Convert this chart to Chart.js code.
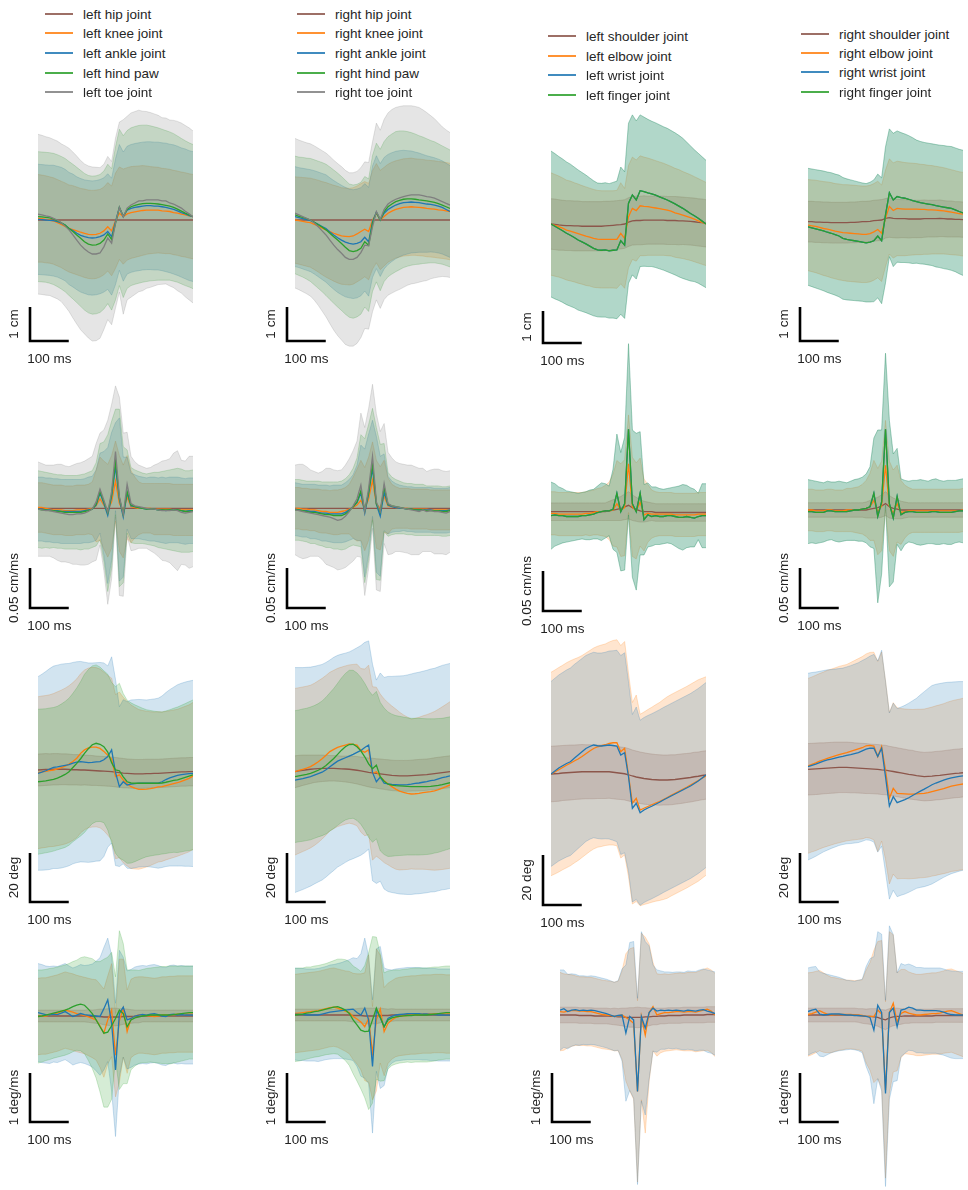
<!DOCTYPE html>
<html lang="en">
<head>
<meta charset="UTF-8">
<title>Joint kinematics around the event</title>
<script src="https://cdn.jsdelivr.net/npm/chart.js"></script>
<style>
  body { margin: 0; background: #fff; width: 968px; height: 1190px; position: relative; overflow: hidden;
         font-family: "Liberation Sans", Arial, sans-serif; }
  canvas.panel { position: absolute; }
  .legend { position: absolute; font-size: 13.5px; color: #262626; }
  .legend .item { position: absolute; left: 0; height: 20px; display: flex; align-items: center; white-space: nowrap; }
  .legend .swatch { display: inline-block; width: 28px; height: 0; border-top: 2px solid; opacity: 0.85; margin-right: 10px; }
</style>
</head>
<body>
<script>
// ---------- time axis (ms) ----------
const timeMs = [-200,-190,-180,-170,-160,-150,-140,-130,-120,-110,
  -100,-90,-80,-70,-60,-50,-40,-30,-20,-10,
  0,10,20,30,40,50,60,70,80,90,
  100,110,120,130,140,150,160,170,180,190,200];

// ---------- names ----------
const hindLeftNames = ['left hip joint', 'left knee joint', 'left ankle joint', 'left hind paw', 'left toe joint'];
const hindRightNames = ['right hip joint', 'right knee joint', 'right ankle joint', 'right hind paw', 'right toe joint'];
const foreLeftNames = ['left shoulder joint', 'left elbow joint', 'left wrist joint', 'left finger joint'];
const foreRightNames = ['right shoulder joint', 'right elbow joint', 'right wrist joint', 'right finger joint'];

// positions / velocities are taken relative to the hip, so its trace is 0
const hindHipRef = [0,0,0,0,0,0,0,0,0,0, 0,0,0,0,0,0,0,0,0,0, 0,0,0,0,0,0,0,0,0,0, 0,0,0,0,0,0,0,0,0,0,0];

// ---------- row 1: position (cm) ----------
const posLH_knee = [0.05,0.04,0.02,0,-0.03,-0.08,-0.13,-0.19,-0.25,-0.28,
  -0.32,-0.36,-0.39,-0.42,-0.43,-0.42,-0.39,-0.32,-0.20,-0.32,
  -0.02,0.20,0.10,0.18,0.22,0.24,0.26,0.28,0.29,0.29,
  0.29,0.29,0.27,0.26,0.25,0.22,0.20,0.17,0.15,0.12,0.10];
const posLH_ankle = [0.02,0.01,0,-0.01,-0.02,-0.05,-0.09,-0.15,-0.25,-0.31,
  -0.39,-0.45,-0.49,-0.52,-0.53,-0.52,-0.49,-0.44,-0.34,-0.49,
  -0.05,0.37,0.10,0.29,0.34,0.37,0.39,0.41,0.42,0.42,
  0.41,0.41,0.39,0.37,0.34,0.31,0.27,0.22,0.18,0.13,0.10];
const posLH_paw = [0.10,0.09,0.08,0.06,0.03,-0.02,-0.08,-0.15,-0.25,-0.34,
  -0.44,-0.54,-0.64,-0.71,-0.74,-0.73,-0.69,-0.59,-0.41,-0.57,
  -0.10,0.37,0.10,0.31,0.39,0.43,0.46,0.48,0.49,0.49,
  0.48,0.47,0.45,0.43,0.41,0.37,0.32,0.26,0.20,0.15,0.10];
const posLH_toe = [0.17,0.15,0.12,0.10,0.05,0,-0.08,-0.18,-0.29,-0.44,
  -0.59,-0.74,-0.85,-0.94,-1.00,-1.00,-0.97,-0.79,-0.53,-0.68,
  -0.09,0.38,0.09,0.35,0.44,0.50,0.56,0.56,0.59,0.59,
  0.59,0.59,0.56,0.56,0.50,0.47,0.41,0.35,0.26,0.18,0.09];
const posLH_knee_sd = [1.29,1.28,1.28,1.27,1.27,1.27,1.27,1.28,1.28,1.29,
  1.29,1.29,1.30,1.30,1.30,1.30,1.29,1.29,1.30,1.32,
  1.40,1.36,1.40,1.36,1.35,1.34,1.33,1.32,1.30,1.28,
  1.27,1.26,1.25,1.25,1.24,1.24,1.24,1.24,1.24,1.24,1.24];
const posLH_ankle_sd = [1.62,1.62,1.62,1.62,1.63,1.63,1.64,1.64,1.65,1.66,
  1.66,1.67,1.67,1.68,1.68,1.68,1.68,1.68,1.70,1.72,
  1.85,1.85,1.90,1.88,1.88,1.88,1.88,1.88,1.88,1.88,
  1.88,1.88,1.88,1.89,1.89,1.90,1.90,1.90,1.91,1.91,1.91];
const posLH_paw_sd = [1.91,1.91,1.91,1.92,1.93,1.94,1.95,1.96,1.97,1.98,
  1.99,2.00,2.01,2.02,2.03,2.03,2.03,2.03,2.05,2.08,
  2.25,2.30,2.38,2.32,2.32,2.32,2.32,2.31,2.30,2.28,
  2.26,2.24,2.22,2.20,2.18,2.17,2.15,2.14,2.13,2.12,2.12];
const posLH_toe_sd = [2.35,2.34,2.33,2.32,2.32,2.32,2.32,2.36,2.40,2.44,
  2.47,2.49,2.50,2.53,2.56,2.55,2.51,2.43,2.40,2.40,
  2.50,2.50,2.86,2.70,2.71,2.69,2.67,2.64,2.60,2.57,
  2.53,2.49,2.45,2.44,2.44,2.46,2.49,2.50,2.52,2.53,2.53];

const posRH_knee = [0,-0.02,-0.04,-0.06,-0.08,-0.13,-0.18,-0.24,-0.29,-0.34,
  -0.39,-0.43,-0.47,-0.48,-0.49,-0.47,-0.41,-0.34,-0.27,-0.34,
  0,0.20,0,0.10,0.20,0.26,0.31,0.34,0.37,0.38,
  0.39,0.38,0.37,0.36,0.34,0.33,0.32,0.30,0.29,0.27,0.25];
const posRH_ankle = [0.10,0.07,0.04,0.01,-0.02,-0.07,-0.13,-0.19,-0.25,-0.35,
  -0.44,-0.52,-0.59,-0.65,-0.69,-0.71,-0.69,-0.64,-0.51,-0.64,
  -0.05,0.23,0,0.20,0.31,0.38,0.44,0.48,0.51,0.52,
  0.53,0.52,0.51,0.49,0.47,0.46,0.44,0.41,0.37,0.31,0.25];
const posRH_paw = [0.15,0.11,0.08,0.04,0,-0.07,-0.14,-0.21,-0.29,-0.39,
  -0.49,-0.59,-0.69,-0.80,-0.90,-0.93,-0.90,-0.83,-0.64,-0.74,
  -0.10,0.22,0,0.25,0.39,0.47,0.54,0.58,0.61,0.62,
  0.62,0.61,0.59,0.58,0.56,0.54,0.52,0.48,0.44,0.39,0.34];
const posRH_toe = [0.20,0.15,0.10,0.05,0,-0.09,-0.20,-0.32,-0.44,-0.59,
  -0.74,-0.87,-0.98,-1.10,-1.16,-1.16,-1.10,-0.96,-0.74,-0.76,
  -0.20,0.25,0.02,0.31,0.47,0.55,0.61,0.65,0.69,0.72,
  0.74,0.74,0.74,0.72,0.69,0.67,0.64,0.59,0.54,0.49,0.44];
const posRH_knee_sd = [1.27,1.28,1.29,1.30,1.31,1.33,1.35,1.37,1.39,1.40,
  1.41,1.42,1.42,1.42,1.42,1.42,1.41,1.41,1.40,1.42,
  1.45,1.46,1.46,1.45,1.44,1.44,1.43,1.43,1.43,1.43,
  1.43,1.42,1.42,1.42,1.42,1.42,1.42,1.42,1.42,1.42,1.42];
const posRH_ankle_sd = [1.47,1.47,1.48,1.49,1.50,1.52,1.54,1.56,1.58,1.59,
  1.60,1.61,1.61,1.61,1.60,1.60,1.60,1.59,1.58,1.60,
  1.64,1.66,1.66,1.64,1.62,1.60,1.58,1.56,1.54,1.52,
  1.50,1.48,1.46,1.44,1.42,1.40,1.39,1.38,1.37,1.36,1.35];
const posRH_paw_sd = [1.73,1.74,1.76,1.78,1.81,1.84,1.87,1.90,1.93,1.95,
  1.96,1.97,1.97,1.97,1.96,1.96,1.95,1.94,1.92,1.95,
  2.00,2.04,2.08,2.06,2.06,2.06,2.06,2.04,2.01,1.98,
  1.95,1.92,1.89,1.86,1.83,1.80,1.78,1.76,1.74,1.73,1.72];
const posRH_toe_sd = [2.20,2.20,2.21,2.22,2.24,2.27,2.31,2.36,2.41,2.46,
  2.50,2.53,2.55,2.56,2.55,2.55,2.53,2.50,2.45,2.45,
  2.50,2.60,2.62,2.65,2.68,2.70,2.70,2.69,2.67,2.64,
  2.62,2.60,2.57,2.52,2.47,2.40,2.34,2.27,2.20,2.16,2.13];

const posLF_shoulder = [0,-0.01,-0.03,-0.04,-0.05,-0.05,-0.06,-0.06,-0.07,-0.07,
  -0.07,-0.07,-0.07,-0.07,-0.06,-0.05,-0.04,-0.03,-0.02,0,
  0.06,0.10,0.11,0.11,0.12,0.12,0.12,0.12,0.12,0.12,
  0.11,0.11,0.11,0.10,0.10,0.09,0.08,0.07,0.05,0.04,0.02];
const posLF_elbow = [0,-0.04,-0.08,-0.13,-0.19,-0.22,-0.26,-0.30,-0.34,-0.38,
  -0.41,-0.45,-0.47,-0.48,-0.48,-0.48,-0.48,-0.48,-0.29,-0.45,
  0.23,0.49,0.42,0.57,0.55,0.54,0.52,0.50,0.48,0.46,
  0.43,0.40,0.35,0.32,0.28,0.24,0.20,0.15,0.10,0.05,0];
const posLF_finger = [0,-0.07,-0.14,-0.21,-0.29,-0.35,-0.42,-0.50,-0.56,-0.62,
  -0.69,-0.76,-0.81,-0.82,-0.81,-0.84,-0.82,-0.81,-0.52,-0.66,
  0.65,0.91,0.75,1.04,1.01,0.97,0.94,0.90,0.85,0.80,
  0.75,0.69,0.63,0.56,0.49,0.41,0.33,0.26,0.18,0.09,0];
const posLF_shoulder_sd = [0.79,0.79,0.79,0.78,0.78,0.78,0.78,0.78,0.77,0.77,
  0.77,0.77,0.77,0.77,0.77,0.76,0.76,0.76,0.76,0.76,
  0.76,0.76,0.76,0.76,0.76,0.75,0.75,0.75,0.75,0.75,
  0.75,0.75,0.75,0.75,0.74,0.74,0.74,0.74,0.74,0.74,0.74];
const posLF_elbow_sd = [1.60,1.59,1.58,1.57,1.56,1.56,1.55,1.55,1.54,1.54,
  1.53,1.53,1.52,1.52,1.52,1.52,1.52,1.53,1.58,1.56,
  1.60,1.60,1.58,1.56,1.54,1.52,1.50,1.48,1.46,1.44,
  1.42,1.40,1.39,1.38,1.36,1.35,1.34,1.33,1.32,1.31,1.30];
const posLF_finger_sd = [2.28,2.27,2.25,2.24,2.23,2.22,2.20,2.19,2.17,2.15,
  2.13,2.11,2.09,2.09,2.10,2.10,2.12,2.15,2.30,2.29,
  2.50,2.50,2.47,2.37,2.33,2.30,2.27,2.26,2.25,2.24,
  2.24,2.23,2.22,2.21,2.19,2.15,2.11,2.06,2.03,2.01,1.99];

const posRF_shoulder = [0,0,-0.01,-0.01,-0.02,-0.02,-0.03,-0.03,-0.03,-0.03,
  -0.03,-0.02,-0.02,-0.01,0,0,0.01,0.03,0.04,0.05,
  0.10,0.12,0.10,0.09,0.09,0.09,0.08,0.08,0.08,0.08,
  0.09,0.09,0.09,0.09,0.10,0.09,0.08,0.08,0.07,0.07,0.06];
const posRF_elbow = [-0.10,-0.12,-0.14,-0.17,-0.20,-0.22,-0.25,-0.28,-0.30,-0.32,
  -0.33,-0.34,-0.35,-0.36,-0.37,-0.37,-0.35,-0.30,-0.23,-0.34,
  0.10,0.45,0.33,0.39,0.38,0.37,0.37,0.37,0.37,0.36,
  0.36,0.35,0.35,0.34,0.33,0.32,0.30,0.28,0.26,0.24,0.22];
const posRF_finger = [-0.15,-0.18,-0.21,-0.24,-0.27,-0.31,-0.34,-0.38,-0.42,-0.49,
  -0.52,-0.54,-0.56,-0.58,-0.60,-0.62,-0.60,-0.56,-0.42,-0.56,
  0.20,0.85,0.64,0.74,0.71,0.69,0.66,0.62,0.59,0.56,
  0.54,0.52,0.50,0.47,0.45,0.43,0.41,0.39,0.35,0.30,0.26];
const posRF_shoulder_sd = [0.60,0.60,0.60,0.60,0.60,0.60,0.60,0.60,0.60,0.60,
  0.60,0.60,0.60,0.60,0.60,0.60,0.60,0.60,0.60,0.60,
  0.58,0.58,0.57,0.57,0.56,0.56,0.56,0.55,0.55,0.55,
  0.55,0.54,0.54,0.54,0.54,0.53,0.53,0.53,0.52,0.52,0.52];
const posRF_elbow_sd = [1.34,1.35,1.36,1.37,1.38,1.39,1.40,1.40,1.41,1.41,
  1.42,1.42,1.42,1.42,1.42,1.42,1.42,1.42,1.42,1.42,
  1.42,1.40,1.40,1.39,1.38,1.37,1.36,1.35,1.34,1.33,
  1.32,1.31,1.30,1.29,1.28,1.27,1.26,1.25,1.24,1.23,1.23];
const posRF_finger_sd = [1.72,1.73,1.74,1.75,1.76,1.77,1.78,1.78,1.79,1.79,
  1.78,1.77,1.76,1.75,1.74,1.74,1.76,1.79,1.82,1.85,
  2.00,1.88,1.96,1.93,1.91,1.89,1.87,1.85,1.81,1.80,
  1.79,1.79,1.79,1.80,1.80,1.81,1.81,1.82,1.82,1.83,1.84];

// ---------- row 2: velocity (cm/ms) ----------
const velLH_knee = [0.001,0.001,0,-0.001,-0.002,-0.002,-0.002,-0.003,-0.003,-0.003,
  -0.002,-0.002,-0.002,-0.001,0,0.003,0.012,0.004,-0.003,0.008,
  0.034,0.006,-0.004,0.014,0.002,0.001,0,0,0,0,
  -0.001,-0.001,-0.001,-0.001,-0.001,-0.002,-0.002,-0.002,-0.002,-0.002,-0.002];
const velLH_ankle = [-0.001,-0.001,-0.002,-0.002,-0.003,-0.003,-0.004,-0.004,-0.004,-0.004,
  -0.004,-0.004,-0.003,-0.002,-0.001,0.004,0.019,0.006,-0.009,0.015,
  0.052,0.011,-0.011,0.019,0.003,0.002,0.001,0,-0.001,-0.001,
  -0.001,-0.002,-0.002,-0.003,-0.002,-0.002,-0.002,-0.003,-0.004,-0.003,-0.003];
const velLH_paw = [-0.001,-0.002,-0.002,-0.003,-0.003,-0.004,-0.004,-0.005,-0.005,-0.005,
  -0.005,-0.005,-0.004,-0.003,-0.001,0.005,0.021,0.008,-0.006,0.017,
  0.058,0.013,-0.008,0.021,0.004,0.002,0.001,0,-0.001,-0.001,
  -0.001,-0.002,-0.002,-0.002,-0.002,-0.002,-0.002,-0.003,-0.004,-0.004,-0.003];
const velLH_toe = [-0.001,-0.002,-0.003,-0.003,-0.004,-0.005,-0.006,-0.007,-0.008,-0.008,
  -0.007,-0.007,-0.006,-0.004,-0.001,0.008,0.024,0.010,-0.005,0.021,
  0.071,0.015,-0.008,0.030,0.006,0.003,0.002,0.001,0,-0.001,
  -0.001,-0.002,-0.003,-0.003,-0.003,-0.002,-0.003,-0.005,-0.006,-0.005,-0.004];
const velLH_knee_sd = [0.031,0.031,0.031,0.031,0.031,0.031,0.031,0.031,0.031,0.031,
  0.031,0.031,0.031,0.031,0.033,0.045,0.052,0.055,0.058,0.058,
  0.050,0.060,0.058,0.052,0.045,0.038,0.033,0.031,0.031,0.031,
  0.032,0.032,0.032,0.032,0.032,0.032,0.032,0.032,0.032,0.032,0.032];
const velLH_ankle_sd = [0.040,0.040,0.040,0.040,0.040,0.040,0.040,0.040,0.040,0.040,
  0.040,0.040,0.040,0.041,0.041,0.044,0.050,0.065,0.085,0.080,
  0.055,0.102,0.075,0.045,0.041,0.040,0.039,0.039,0.039,0.040,
  0.040,0.040,0.041,0.041,0.041,0.041,0.041,0.041,0.041,0.041,0.041];
const velLH_paw_sd = [0.048,0.048,0.047,0.047,0.046,0.046,0.046,0.046,0.046,0.046,
  0.046,0.047,0.047,0.048,0.048,0.052,0.060,0.075,0.098,0.092,
  0.066,0.111,0.085,0.052,0.047,0.046,0.045,0.044,0.044,0.045,
  0.046,0.047,0.048,0.049,0.050,0.051,0.052,0.052,0.051,0.051,0.051];
const velLH_toe_sd = [0.059,0.058,0.057,0.057,0.058,0.060,0.061,0.060,0.060,0.062,
  0.063,0.064,0.065,0.066,0.066,0.073,0.070,0.088,0.115,0.109,
  0.082,0.124,0.102,0.065,0.059,0.055,0.052,0.051,0.050,0.052,
  0.055,0.058,0.062,0.063,0.065,0.071,0.075,0.065,0.065,0.070,0.069];

const velRH_knee = [0,0,-0.001,-0.001,-0.002,-0.002,-0.003,-0.004,-0.004,-0.005,
  -0.005,-0.005,-0.004,-0.003,-0.001,0.001,0.004,0.010,-0.001,0.012,
  0.035,0.005,0,0.015,0.003,0.002,0.001,0,0,0,
  -0.001,-0.001,-0.001,-0.001,-0.001,-0.002,-0.002,-0.002,-0.002,-0.002,-0.002];
const velRH_ankle = [-0.001,-0.002,-0.003,-0.003,-0.004,-0.004,-0.005,-0.006,-0.006,-0.007,
  -0.007,-0.007,-0.007,-0.005,-0.002,0.002,0.007,0.019,-0.006,0.018,
  0.050,0.005,-0.010,0.020,0.004,0.002,0.001,0,0,-0.001,
  -0.001,-0.002,-0.002,-0.002,-0.002,-0.002,-0.003,-0.003,-0.003,-0.003,-0.002];
const velRH_paw = [-0.002,-0.002,-0.003,-0.004,-0.005,-0.005,-0.006,-0.007,-0.008,-0.008,
  -0.009,-0.009,-0.009,-0.007,-0.003,0.002,0.008,0.022,-0.003,0.020,
  0.055,0.006,-0.005,0.026,0.005,0.003,0.002,0.001,0,-0.001,
  -0.001,-0.002,-0.002,-0.002,-0.003,-0.003,-0.003,-0.003,-0.004,-0.004,-0.003];
const velRH_toe = [-0.002,-0.003,-0.004,-0.005,-0.006,-0.007,-0.008,-0.009,-0.010,-0.011,
  -0.013,-0.015,-0.014,-0.010,-0.004,0.003,0.012,0.029,-0.004,0.025,
  0.065,0.008,-0.004,0.031,0.006,0.003,0.002,0.001,0,-0.001,
  -0.002,-0.003,-0.004,-0.002,-0.004,-0.003,-0.004,-0.004,-0.005,-0.006,-0.004];
const velRH_knee_sd = [0.026,0.026,0.026,0.026,0.026,0.026,0.027,0.027,0.027,0.027,
  0.028,0.028,0.028,0.029,0.031,0.038,0.045,0.050,0.052,0.052,
  0.048,0.055,0.052,0.045,0.035,0.028,0.026,0.025,0.025,0.025,
  0.025,0.025,0.025,0.025,0.025,0.025,0.025,0.025,0.025,0.025,0.025];
const velRH_ankle_sd = [0.033,0.033,0.033,0.033,0.034,0.034,0.034,0.035,0.035,0.035,
  0.036,0.036,0.036,0.037,0.038,0.040,0.047,0.060,0.080,0.075,
  0.060,0.085,0.075,0.048,0.036,0.032,0.030,0.029,0.028,0.028,
  0.028,0.028,0.028,0.028,0.028,0.028,0.028,0.028,0.028,0.028,0.028];
const velRH_paw_sd = [0.038,0.038,0.038,0.038,0.039,0.039,0.040,0.040,0.041,0.041,
  0.042,0.042,0.043,0.044,0.045,0.048,0.055,0.070,0.090,0.085,
  0.070,0.095,0.085,0.055,0.040,0.036,0.034,0.033,0.032,0.032,
  0.032,0.032,0.032,0.032,0.031,0.031,0.031,0.031,0.031,0.031,0.031];
const velRH_toe_sd = [0.056,0.058,0.059,0.057,0.054,0.053,0.052,0.055,0.060,0.061,
  0.061,0.062,0.062,0.064,0.066,0.069,0.072,0.090,0.105,0.100,
  0.090,0.110,0.100,0.075,0.064,0.060,0.056,0.055,0.055,0.055,
  0.056,0.055,0.054,0.052,0.050,0.051,0.053,0.053,0.052,0.052,0.051];

const velLF_shoulder = [0,0,0,0,0,0,0,0,0,0,
  0,0,0,0,0,0.001,0.002,0.003,0.004,0.006,
  0.008,0.005,0.003,0.001,0,0,0,-0.001,-0.001,-0.001,
  -0.001,-0.001,-0.001,-0.001,-0.001,-0.001,-0.001,-0.001,-0.001,-0.001,-0.001];
const velLF_elbow = [-0.002,-0.002,-0.003,-0.003,-0.003,-0.003,-0.003,-0.003,-0.003,-0.002,
  -0.002,-0.001,0,0,0.001,0.001,0.002,0.010,0.002,0.005,
  0.060,0.006,0.001,0.012,-0.004,-0.002,-0.003,-0.003,-0.003,-0.003,
  -0.003,-0.003,-0.004,-0.004,-0.004,-0.004,-0.004,-0.004,-0.003,-0.003,-0.003];
const velLF_finger = [-0.005,-0.004,-0.005,-0.005,-0.006,-0.006,-0.006,-0.006,-0.005,-0.005,
  -0.004,-0.003,-0.001,0,0.001,0.001,0.003,0.023,0,0.010,
  0.103,0.010,0,0.023,-0.010,-0.004,-0.006,-0.005,-0.006,-0.006,
  -0.005,-0.005,-0.006,-0.007,-0.007,-0.006,-0.007,-0.008,-0.006,-0.005,-0.005];
const velLF_shoulder_sd = [0.011,0.011,0.011,0.011,0.011,0.011,0.011,0.011,0.011,0.011,
  0.011,0.011,0.011,0.011,0.011,0.012,0.013,0.014,0.015,0.016,
  0.017,0.016,0.015,0.014,0.013,0.012,0.011,0.011,0.011,0.011,
  0.011,0.011,0.011,0.011,0.011,0.011,0.011,0.011,0.011,0.011,0.011];
const velLF_elbow_sd = [0.027,0.027,0.027,0.027,0.027,0.027,0.027,0.027,0.027,0.027,
  0.028,0.028,0.029,0.030,0.032,0.036,0.045,0.054,0.058,0.060,
  0.061,0.062,0.060,0.055,0.045,0.036,0.030,0.028,0.027,0.027,
  0.027,0.027,0.027,0.027,0.027,0.027,0.027,0.027,0.027,0.027,0.027];
const velLF_finger_sd = [0.042,0.039,0.036,0.034,0.032,0.031,0.030,0.029,0.029,0.030,
  0.031,0.031,0.033,0.036,0.034,0.031,0.050,0.074,0.074,0.083,
  0.107,0.092,0.098,0.077,0.044,0.040,0.037,0.036,0.035,0.034,
  0.034,0.035,0.037,0.039,0.041,0.039,0.037,0.036,0.029,0.040,0.040];

const velRF_shoulder = [0,0,0,0,0,0,0,0,0,0,
  0,0,0,0,0,0,0.001,0.002,0.003,0.005,
  0.008,0.004,0.002,0.001,0,0,0,0,0,0,
  0,0,0,0,0,0,0,0,0,0,0];
const velRF_elbow = [0,0,-0.001,-0.001,-0.001,0,0,-0.001,-0.001,-0.001,
  0,0,0,0,0.001,0.002,0.004,0.012,-0.002,0.005,
  0.056,0.005,-0.004,0.008,-0.003,-0.002,-0.001,-0.001,-0.001,-0.001,
  -0.001,-0.001,-0.001,-0.001,-0.001,-0.001,-0.001,-0.001,-0.001,-0.001,0];
const velRF_finger = [-0.002,-0.002,-0.003,-0.003,-0.003,-0.001,-0.001,-0.002,-0.002,-0.002,
  -0.002,-0.001,0,0,0.001,0.002,0.004,0.021,-0.008,0.010,
  0.101,0.008,-0.010,0.017,-0.006,-0.003,-0.002,-0.002,-0.003,-0.003,
  -0.003,-0.003,-0.002,-0.002,-0.003,-0.003,-0.003,-0.003,-0.002,-0.001,-0.001];
const velRF_shoulder_sd = [0.009,0.009,0.009,0.009,0.009,0.009,0.009,0.009,0.009,0.009,
  0.009,0.009,0.009,0.009,0.009,0.010,0.011,0.012,0.013,0.014,
  0.015,0.014,0.013,0.012,0.011,0.010,0.009,0.009,0.009,0.009,
  0.009,0.009,0.009,0.009,0.009,0.009,0.009,0.009,0.009,0.009,0.009];
const velRF_elbow_sd = [0.026,0.026,0.026,0.026,0.026,0.026,0.026,0.026,0.026,0.026,
  0.027,0.027,0.028,0.029,0.031,0.035,0.042,0.050,0.054,0.056,
  0.056,0.056,0.054,0.048,0.040,0.033,0.029,0.027,0.027,0.027,
  0.027,0.027,0.027,0.027,0.027,0.027,0.027,0.027,0.027,0.027,0.027];
const velRF_finger_sd = [0.040,0.039,0.039,0.038,0.037,0.037,0.036,0.037,0.038,0.037,
  0.036,0.037,0.038,0.039,0.040,0.043,0.050,0.069,0.108,0.090,
  0.095,0.104,0.080,0.060,0.045,0.040,0.038,0.039,0.040,0.041,
  0.040,0.039,0.040,0.041,0.040,0.039,0.040,0.040,0.039,0.039,0.040];

// ---------- row 3: joint angle (deg) ----------
const angLH_hip = [0,0.1,0.2,0.2,0.3,0.3,0.3,0.3,0.2,0.1,
  0.1,0,0,-0.1,-0.2,-0.3,-0.4,-0.5,-0.6,-0.7,
  -0.9,-1.1,-1.3,-1.4,-1.5,-1.6,-1.6,-1.6,-1.5,-1.5,
  -1.4,-1.4,-1.3,-1.2,-1.1,-1.0,-0.9,-0.8,-0.8,-0.7,-0.7];
const angLH_knee = [-1.1,-0.8,-0.6,-0.3,0,0.5,1.0,1.6,2.4,3.5,
  4.8,6.8,8.2,9.0,9.3,9.3,8.8,7.6,6.0,4.5,
  -2.7,-2.0,-4.1,-5.6,-6.8,-7.4,-7.9,-7.9,-7.8,-7.6,
  -7.3,-6.9,-6.8,-6.4,-6.0,-5.6,-5.2,-4.6,-4.0,-3.4,-2.4];
const angLH_ankle = [-1.4,-0.9,-0.3,0.4,1.1,1.3,1.6,1.9,2.2,2.8,
  3.2,3.4,3.2,3.0,3.1,3.3,3.4,4.2,5.5,8.2,
  -1.0,-6.8,-4.8,-6.1,-5.8,-5.6,-5.4,-5.4,-5.4,-5.4,
  -5.4,-5.4,-4.8,-3.9,-3.2,-2.7,-2.2,-1.9,-1.7,-1.5,-1.4];
const angLH_paw = [-4.8,-4.6,-4.4,-4.1,-3.8,-3.3,-2.6,-1.8,-0.7,1.0,
  2.7,4.6,6.8,8.7,10.3,10.9,10.5,9.5,7.3,3.0,
  0,-0.3,-2.8,-4.8,-5.3,-5.4,-5.4,-5.4,-5.4,-5.4,
  -5.4,-5.4,-5.3,-5.0,-4.6,-4.2,-4.0,-3.5,-3.0,-2.5,-2.0];
const angLH_hip_sd = [6.5,6.5,6.5,6.4,6.4,6.4,6.3,6.3,6.3,6.2,
  6.2,6.2,6.1,6.1,6.1,6.0,6.0,6.0,6.0,6.0,
  6.0,6.0,6.0,5.9,5.9,5.9,5.9,5.9,5.9,5.9,
  5.8,5.8,5.8,5.8,5.8,5.8,5.8,5.8,5.8,5.8,5.8];
const angLH_knee_sd = [31.0,31.0,31.0,31.0,31.2,31.4,31.6,31.8,32.0,32.2,
  32.4,32.5,32.6,32.6,32.6,32.5,32.4,32.4,32.6,33.0,
  33.5,33.8,33.8,33.6,33.4,33.0,32.6,32.2,31.8,31.4,
  31.0,30.7,30.5,30.3,30.2,30.1,30.0,30.0,30.0,30.0,30.0];
const angLH_ankle_sd = [39.5,40.0,40.5,41.0,41.3,41.5,41.6,41.5,41.3,41.1,
  41.0,40.9,40.8,40.7,40.6,40.5,40.5,39.5,37.0,38.0,
  38.0,32.6,33.5,34.0,34.4,34.3,34.2,34.1,34.0,34.2,
  34.4,34.7,35.0,35.5,36.0,36.5,37.0,37.3,37.6,37.8,38.0];
const angLH_paw_sd = [29.6,29.5,29.4,29.4,29.3,29.3,29.5,29.8,30.0,30.3,
  30.8,31.5,32.3,32.3,32.2,32.0,31.5,31.0,31.8,32.7,
  34.0,35.7,34.0,33.3,32.7,32.0,31.3,30.6,30.0,29.7,
  29.4,29.2,29.0,29.1,29.2,29.4,29.7,29.9,30.1,30.4,30.6];

const angRH_hip = [-0.7,-0.4,-0.1,0.1,0.3,0.5,0.6,0.7,0.7,0.7,
  0.7,0.6,0.5,0.4,0.3,0.1,-0.1,-0.4,-0.7,-1.0,
  -1.2,-1.4,-1.6,-1.8,-2.0,-2.2,-2.3,-2.4,-2.4,-2.4,
  -2.3,-2.2,-2.1,-2.0,-1.9,-1.7,-1.5,-1.3,-1.1,-0.9,-0.7];
const angRH_knee = [-0.7,-0.2,0.3,0.8,1.4,2.3,3.4,4.6,6.0,7.5,
  8.4,9.2,9.7,10.2,10.6,10.5,10.2,8.0,7.2,8.2,
  -1.4,-0.7,-2.7,-4.4,-5.6,-6.8,-7.8,-8.6,-9.1,-9.5,
  -9.8,-9.7,-9.5,-9.2,-9.0,-8.8,-8.5,-8.0,-7.4,-6.8,-6.1];
const angRH_ankle = [-4.1,-3.8,-3.5,-3.1,-2.7,-2.1,-1.5,-0.9,0.1,1.3,
  2.5,3.6,4.3,5.0,5.7,6.4,7.2,8.0,9.2,10.2,
  -1.0,-4.8,-2.9,-5.4,-5.7,-5.9,-6.0,-6.1,-6.1,-6.0,
  -5.8,-5.5,-5.3,-5.0,-4.7,-4.3,-4.1,-3.6,-3.1,-2.8,-2.4];
const angRH_paw = [-2.7,-2.4,-2.1,-1.8,-1.4,-0.8,-0.1,0.7,1.8,3.3,
  4.7,6.4,8.1,9.5,10.4,10.5,9.5,7.8,5.4,2.5,
  0.5,2.0,-2.7,-4.6,-5.8,-6.2,-6.4,-6.5,-6.6,-6.7,
  -6.8,-6.8,-6.8,-6.8,-6.8,-6.7,-6.5,-6.3,-6.0,-5.6,-5.2];
const angRH_hip_sd = [6.5,6.4,6.2,6.0,5.8,5.6,5.5,5.4,5.3,5.2,
  5.2,5.2,5.2,5.3,5.4,5.5,5.6,5.7,5.8,5.9,
  6.0,6.0,6.1,6.1,6.2,6.2,6.2,6.3,6.3,6.3,
  6.3,6.4,6.4,6.4,6.4,6.4,6.5,6.5,6.5,6.5,6.5];
const angRH_knee_sd = [34.0,33.8,33.6,33.4,33.2,33.1,33.0,32.8,32.6,32.4,
  32.3,32.3,32.3,32.3,32.3,32.6,33.0,33.4,34.0,34.6,
  35.4,34.5,33.7,33.4,33.1,32.9,32.7,32.2,31.6,31.1,
  30.6,30.8,31.0,31.3,31.6,32.0,32.4,32.8,33.2,33.6,34.0];
const angRH_ankle_sd = [45.9,45.6,45.3,45.0,44.7,44.4,44.2,44.0,43.8,43.6,
  43.5,43.2,43.0,42.7,42.5,42.6,42.7,42.8,42.9,42.5,
  44.2,41.5,42.5,43.2,43.9,44.1,44.3,44.5,44.6,44.8,
  45.0,45.1,45.2,45.3,45.4,45.5,45.6,45.7,45.8,45.9,45.9];
const angRH_paw_sd = [26.9,26.9,27.0,27.0,27.1,27.1,27.2,27.5,27.9,28.2,
  28.6,29.0,29.5,29.9,30.3,30.2,30.1,30.0,30.0,30.0,
  30.0,30.1,30.3,29.9,29.5,29.0,28.6,28.4,28.2,28.0,
  27.9,27.9,27.9,27.8,27.7,27.6,27.4,27.3,27.1,27.0,26.9];

const angLF_shoulder = [0,0.1,0.2,0.4,0.5,0.6,0.7,0.8,0.9,0.9,
  0.9,0.9,0.9,0.9,0.9,0.9,0.7,0.5,0.3,0.1,
  -0.3,-0.8,-1.2,-1.5,-1.8,-2.0,-2.2,-2.3,-2.4,-2.4,
  -2.4,-2.3,-2.2,-2.0,-1.8,-1.6,-1.4,-1.1,-0.9,-0.6,-0.4];
const angLF_elbow = [0,0.8,1.7,2.6,3.5,4.3,5.2,6.0,7.0,8.1,
  9.2,10.2,10.9,11.3,11.7,12.2,12.5,12.5,8.9,10.3,
  -0.4,-11.7,-9.7,-14.4,-13.7,-13.0,-12.3,-11.6,-11.0,-10.2,
  -9.4,-8.5,-7.7,-6.9,-6.1,-5.3,-4.4,-3.5,-2.6,-1.7,-0.8];
const angLF_wrist = [0,1.2,2.4,3.3,4.2,4.9,6.3,7.6,8.9,10.2,
  11.0,11.6,11.3,11.2,11.4,11.6,11.4,11.2,7.6,8.5,
  -1.1,-13.7,-11.7,-15.5,-14.4,-13.6,-12.9,-12.1,-11.3,-10.4,
  -9.6,-8.8,-8.0,-7.2,-6.4,-5.6,-4.8,-3.8,-2.8,-1.6,-0.4];
const angLF_shoulder_sd = [11.1,11.1,11.1,11.0,11.0,11.0,10.9,10.9,10.9,10.8,
  10.8,10.8,10.7,10.7,10.7,10.6,10.6,10.6,10.5,10.5,
  10.5,10.4,10.4,10.3,10.3,10.2,10.2,10.1,10.1,10.0,
  10.0,10.0,9.9,9.9,9.9,9.8,9.8,9.8,9.7,9.7,9.7];
const angLF_elbow_sd = [40.7,40.8,40.9,40.9,41.0,41.0,40.8,40.6,40.4,40.3,
  40.2,40.2,40.2,40.3,40.3,40.6,40.9,41.2,42.5,42.7,
  40.7,40.3,41.3,38.3,38.5,38.8,39.0,39.3,39.6,40.0,
  40.3,40.3,40.3,40.3,40.3,40.3,40.3,40.3,40.3,40.0,39.7];
const angLF_wrist_sd = [37.0,37.1,37.2,37.3,37.4,37.5,37.5,37.4,37.3,37.2,
  37.1,37.1,37.1,37.2,37.3,37.6,37.9,38.3,39.8,40.0,
  38.0,37.5,38.5,37.0,37.0,37.0,37.0,37.0,37.0,37.0,
  37.0,37.0,37.0,37.0,37.0,37.0,37.0,37.0,37.0,37.0,37.0];

const angRF_shoulder = [0,0.1,0.2,0.3,0.4,0.5,0.6,0.7,0.8,0.8,
  0.8,0.7,0.6,0.5,0.4,0.3,0.2,0.1,0,-0.2,
  -0.3,-0.6,-0.9,-1.2,-1.5,-1.8,-2.1,-2.3,-2.6,-2.8,
  -3.0,-2.9,-2.8,-2.6,-2.5,-2.3,-2.1,-1.9,-1.7,-1.6,-1.4];
const angRF_elbow = [1.4,2.0,2.6,3.3,3.9,4.5,5.0,5.5,6.0,6.4,
  6.8,7.3,7.8,8.3,8.8,9.6,9.8,9.5,5.2,9.3,
  -0.3,-11.8,-7.8,-9.8,-9.9,-10.0,-10.1,-10.1,-10.0,-9.9,
  -9.8,-9.5,-9.1,-8.7,-8.3,-7.9,-7.4,-6.9,-6.6,-6.3,-6.0];
const angRF_wrist = [1.1,1.6,2.1,2.7,3.3,3.8,4.2,4.6,5.0,5.3,
  5.7,6.0,6.4,6.8,7.5,8.2,8.6,8.6,5.2,8.6,
  -3.0,-15.0,-11.2,-13.6,-13.0,-12.4,-11.6,-10.7,-9.8,-8.9,
  -8.1,-7.2,-6.3,-5.6,-5.0,-4.4,-3.9,-3.5,-3.2,-2.9,-2.7];
const angRF_shoulder_sd = [10.5,10.5,10.5,10.5,10.4,10.4,10.4,10.4,10.3,10.3,
  10.3,10.3,10.2,10.2,10.2,10.2,10.1,10.1,10.1,10.1,
  10.1,10.0,10.0,10.0,10.0,10.0,10.0,10.0,9.9,9.9,
  9.9,9.9,9.9,9.9,9.9,9.9,9.9,9.9,9.9,9.9,9.9];
const angRF_elbow_sd = [35.7,35.7,35.8,35.8,35.8,35.9,35.9,35.9,36.0,36.0,
  36.0,36.3,36.6,36.9,37.2,37.5,37.9,38.3,38.8,38.6,
  36.5,35.0,35.0,34.9,34.7,34.6,34.6,34.5,34.5,34.4,
  34.4,34.5,34.5,34.6,34.6,34.7,34.8,34.8,34.9,34.9,35.0];
const angRF_wrist_sd = [38.1,37.9,37.6,37.3,37.0,36.8,36.5,36.3,36.1,36.0,
  36.1,36.3,36.5,36.7,36.9,37.0,37.6,38.3,39.0,40.0,
  39.0,38.0,38.2,38.4,38.4,38.5,38.6,38.7,38.8,39.3,
  39.8,40.2,40.5,40.3,40.0,39.7,39.4,39.1,38.9,38.7,38.5];

// ---------- row 4: angular velocity (deg/ms) ----------
const avLH_hip = [0,0,0,0,0,0,0,0,0,0,
  0,0,0,0,-0.01,-0.01,-0.01,-0.02,-0.02,-0.02,
  -0.02,-0.02,-0.01,-0.01,-0.01,-0.01,-0.01,0,0,0,
  0,0,0,0,0,0,0,0,0,0,0];
const avLH_knee = [-0.01,0,0,0.02,0.04,0.06,0.09,0.12,0.10,0.08,
  0.05,0.03,0.01,-0.02,-0.05,-0.08,-0.20,-0.35,-0.08,0.12,
  -0.80,-0.10,0.16,-0.32,-0.05,0,0.02,0.02,0.01,0,
  -0.01,0,0.02,0.02,0.03,0.03,0.04,0.04,0.04,0.04,0.04];
const avLH_ankle = [0.07,0.05,0.03,0.02,0.04,0.03,0.06,0.09,0.04,-0.01,
  0.02,0.05,0.03,0.02,0.01,0,-0.01,0.15,0.33,-0.15,
  -1.10,0.05,0.18,-0.08,-0.05,0,0.02,0.03,0.02,0.04,
  0.05,0.03,0,-0.01,0.03,0.04,0.02,0.03,0.02,0.02,0.02];
const avLH_paw = [-0.01,0,0.02,0.04,0.06,0.08,0.10,0.12,0.15,0.19,
  0.22,0.24,0.22,0.14,0.05,-0.08,-0.22,-0.35,-0.33,-0.20,
  -0.05,0.12,0.05,-0.22,-0.08,-0.04,-0.02,0,0.01,0.02,
  0.02,0.02,0.02,0.02,0.02,0.03,0.04,0.05,0.06,0.07,0.07];
const avLH_hip_sd = [0.12,0.12,0.12,0.12,0.12,0.12,0.12,0.12,0.12,0.12,
  0.12,0.12,0.12,0.13,0.13,0.14,0.15,0.16,0.17,0.18,
  0.18,0.17,0.16,0.15,0.14,0.13,0.13,0.12,0.12,0.12,
  0.12,0.12,0.12,0.12,0.12,0.12,0.12,0.12,0.12,0.12,0.12];
const avLH_knee_sd = [0.78,0.78,0.78,0.78,0.78,0.78,0.78,0.78,0.78,0.78,
  0.78,0.78,0.78,0.79,0.80,0.82,0.85,0.90,0.90,0.95,
  0.85,1.26,1.00,0.85,0.80,0.79,0.78,0.78,0.78,0.78,
  0.78,0.78,0.78,0.78,0.78,0.78,0.78,0.78,0.78,0.78,0.78];
const avLH_ankle_sd = [1.00,1.00,0.99,0.99,0.98,0.98,0.98,0.98,0.98,0.99,
  0.99,1.00,1.00,1.02,1.05,1.12,1.20,1.25,1.26,1.39,
  1.36,1.29,1.02,1.00,1.00,1.00,1.00,1.00,1.00,1.00,
  1.00,1.00,1.00,1.00,1.00,1.00,1.00,1.00,1.00,1.00,1.00];
const avLH_paw_sd = [0.95,0.94,0.93,0.93,0.92,0.92,0.92,0.92,0.92,0.92,
  0.92,0.95,0.99,1.05,1.12,1.19,1.33,1.51,1.53,1.50,
  0.85,1.62,1.43,1.16,1.02,0.98,0.95,0.95,0.96,0.96,
  0.97,0.98,0.99,0.99,1.00,0.99,0.98,0.97,0.96,0.95,0.95];

const avRH_hip = [0,0,0,0,0,0,0,0,0,0,
  0,0,0,0,0,-0.01,-0.01,-0.01,-0.02,-0.02,
  -0.02,-0.02,-0.01,-0.01,-0.01,0,0,0,0,0,
  0,0,0,0,0,0,0,0,0,0,0];
const avRH_knee = [0.03,0.04,0.05,0.06,0.07,0.08,0.09,0.11,0.13,0.15,
  0.16,0.14,0.11,0.08,0.05,-0.03,-0.08,-0.14,-0.24,-0.07,
  -0.78,-0.10,0.12,-0.34,-0.17,-0.10,-0.05,-0.03,-0.02,-0.01,
  0,0,0.01,0.02,0.02,0.02,0.03,0.03,0.03,0.02,0.02];
const avRH_ankle = [0.02,0.01,0.01,0,0,0,0,0.02,0.04,0.06,
  0.07,0.08,0.09,0.10,0.11,0.12,0.05,0,0.14,-0.10,
  -1.05,0.10,-0.05,-0.24,-0.07,-0.03,0,0.01,0.02,0.03,
  0.03,0.03,0.03,0.02,0.02,0.01,0.01,0,0,0,0];
const avRH_paw = [0,0.01,0.02,0.04,0.05,0.07,0.08,0.10,0.12,0.14,
  0.16,0.17,0.14,0.10,0.03,-0.10,-0.20,-0.31,-0.34,-0.33,
  -0.10,0.14,-0.05,-0.24,-0.10,-0.06,-0.04,-0.03,-0.02,-0.01,
  -0.01,0,0,0,0,0.01,0.02,0.03,0.04,0.05,0.05];
const avRH_hip_sd = [0.12,0.12,0.12,0.12,0.12,0.12,0.12,0.12,0.12,0.12,
  0.12,0.12,0.12,0.12,0.13,0.13,0.14,0.15,0.16,0.16,
  0.16,0.16,0.15,0.14,0.13,0.13,0.12,0.12,0.12,0.12,
  0.12,0.12,0.12,0.12,0.12,0.12,0.12,0.12,0.12,0.12,0.12];
const avRH_knee_sd = [0.80,0.80,0.80,0.80,0.80,0.80,0.80,0.80,0.80,0.80,
  0.80,0.80,0.81,0.82,0.84,0.88,0.92,0.98,1.10,1.30,
  0.95,1.45,1.10,0.90,0.82,0.80,0.80,0.80,0.80,0.80,
  0.80,0.80,0.80,0.80,0.80,0.80,0.80,0.80,0.80,0.80,0.80];
const avRH_ankle_sd = [0.94,0.94,0.94,0.94,0.94,0.94,0.95,0.95,0.95,0.96,
  0.96,0.97,0.98,1.00,1.02,1.05,1.10,1.25,1.43,1.30,
  1.36,1.25,1.45,1.20,1.00,0.95,0.94,0.94,0.94,0.94,
  0.94,0.94,0.94,0.94,0.94,0.94,0.94,0.94,0.94,0.94,0.94];
const avRH_paw_sd = [0.95,0.95,0.94,0.94,0.93,0.93,0.93,0.93,0.93,0.94,
  0.95,0.97,1.00,1.03,1.06,1.10,1.15,1.20,1.35,1.60,
  1.70,1.45,1.30,1.10,1.00,0.97,0.96,0.95,0.95,0.95,
  0.96,0.96,0.96,0.96,0.96,0.96,0.96,0.95,0.95,0.95,0.95];

const avLF_shoulder = [0,0,0,0,0,-0.01,-0.01,-0.01,-0.01,-0.02,
  -0.02,-0.02,-0.02,-0.03,-0.03,-0.04,-0.04,-0.05,-0.05,-0.05,
  -0.05,-0.05,-0.04,-0.04,-0.03,-0.03,-0.02,-0.02,-0.01,-0.01,
  -0.01,-0.01,0,0,0,0,0,0,0.01,0.01,0.01];
const avLF_elbow = [0.07,0.06,0.08,0.09,0.09,0.08,0.08,0.07,0.07,0.05,
  0.03,0.01,0,-0.01,-0.03,-0.02,0,-0.05,-0.10,-0.17,
  -1.56,-0.03,-0.41,0.05,0.17,0,0.03,0.05,0.05,0.06,
  0.07,0.07,0.06,0.07,0.07,0.06,0.08,0.10,0.12,0.08,0];
const avLF_wrist = [0.10,0.13,0.07,0.10,0.11,0.09,0.10,0.09,0.10,0.09,
  0.07,0.05,0.03,0,-0.03,-0.01,0,-0.37,-0.03,-0.10,
  -1.56,-0.03,-0.27,0.05,0.14,0.08,0.10,0.09,0.10,0.09,
  0.10,0.09,0.08,0.10,0.09,0.08,0.10,0.11,0.08,0.06,0.03];
const avLF_shoulder_sd = [0.16,0.16,0.16,0.16,0.16,0.16,0.16,0.16,0.16,0.16,
  0.16,0.16,0.16,0.16,0.17,0.17,0.18,0.19,0.20,0.20,
  0.21,0.20,0.19,0.18,0.17,0.17,0.16,0.16,0.16,0.16,
  0.16,0.16,0.16,0.16,0.16,0.16,0.16,0.16,0.16,0.16,0.16];
const avLF_elbow_sd = [0.80,0.78,0.75,0.73,0.71,0.70,0.70,0.70,0.70,0.70,
  0.70,0.70,0.70,0.70,0.70,0.71,0.90,1.30,1.45,1.55,
  1.85,1.70,2.00,1.40,0.90,0.84,0.80,0.79,0.78,0.78,
  0.78,0.79,0.79,0.80,0.80,0.81,0.82,0.83,0.84,0.84,0.85];
const avLF_wrist_sd = [0.82,0.79,0.76,0.74,0.72,0.71,0.70,0.70,0.70,0.70,
  0.70,0.70,0.70,0.70,0.70,0.71,0.94,1.39,1.51,1.60,
  1.90,1.73,1.77,1.36,0.88,0.84,0.80,0.79,0.78,0.78,
  0.78,0.79,0.79,0.80,0.80,0.81,0.82,0.83,0.84,0.84,0.85];

const avRF_shoulder = [0,0,0,0,0,0,0,0,0,0,
  0,0,0,-0.01,-0.02,-0.03,-0.03,-0.04,-0.05,-0.08,
  -0.10,-0.06,-0.04,-0.03,-0.03,-0.02,-0.02,-0.02,-0.02,-0.02,
  -0.02,-0.02,-0.02,-0.01,-0.01,-0.01,-0.01,-0.01,-0.01,-0.01,-0.01];
const avRF_elbow = [0.01,0.03,0.06,0.09,0.05,0.02,0,0.01,0.01,0.01,
  0.01,0.01,0,0,-0.01,-0.03,-0.03,-0.03,0.10,0.02,
  -1.53,0.05,0.24,-0.14,0.03,0.07,0.04,0.02,0,0,
  0.01,0.02,0.03,0.03,0.04,0.06,0.08,0.09,0.06,0.03,0];
const avRF_wrist = [0.07,0.10,0.12,0.02,0,0.01,0.02,0.02,0.02,0.01,
  0,0,-0.01,-0.01,-0.02,-0.03,-0.05,-0.31,0.20,0.05,
  -1.60,0.05,0.14,-0.24,0.10,0.12,0.16,0.14,0.10,0.10,
  0.09,0.09,0.09,0.09,0.08,0.06,0.03,0.01,0,0,0];
const avRF_shoulder_sd = [0.14,0.14,0.14,0.14,0.14,0.14,0.14,0.14,0.14,0.14,
  0.14,0.14,0.14,0.14,0.15,0.15,0.16,0.17,0.18,0.19,
  0.20,0.19,0.18,0.17,0.16,0.15,0.15,0.14,0.14,0.14,
  0.14,0.14,0.14,0.14,0.14,0.14,0.14,0.14,0.14,0.14,0.14];
const avRF_elbow_sd = [0.85,0.84,0.83,0.82,0.81,0.79,0.77,0.75,0.73,0.72,
  0.70,0.70,0.70,0.71,0.73,0.95,1.10,1.35,1.40,1.50,
  1.80,1.65,1.40,1.00,0.90,0.86,0.84,0.83,0.83,0.83,
  0.83,0.83,0.83,0.83,0.84,0.84,0.85,0.85,0.85,0.85,0.85];
const avRF_wrist_sd = [0.89,0.88,0.87,0.86,0.85,0.82,0.79,0.77,0.75,0.73,
  0.71,0.70,0.70,0.72,0.75,1.02,1.20,1.50,1.50,1.60,
  1.90,1.77,1.50,1.10,0.95,0.90,0.88,0.87,0.87,0.87,
  0.87,0.87,0.87,0.87,0.88,0.88,0.88,0.89,0.89,0.89,0.89];

// ---------- colours (matplotlib tab10) ----------
const C_BROWN = '#8c564b', C_ORANGE = '#ff7f0e', C_BLUE = '#1f77b4', C_GREEN = '#2ca02c', C_GREY = '#7f7f7f';
const hindColors = [C_BROWN, C_ORANGE, C_BLUE, C_GREEN, C_GREY];
const foreColors = [C_BROWN, C_ORANGE, C_BLUE, C_GREEN];

// ---------- layout ----------
const rows = [
  { top: 95,  height: 280, barValue: 1,    barLabel: '1 cm' },
  { top: 335, height: 310, barValue: 0.05, barLabel: '0.05 cm/ms' },
  { top: 625, height: 305, barValue: 20,   barLabel: '20 deg' },
  { top: 915, height: 275, barValue: 1,    barLabel: '1 deg/ms' }
];
const PLOT_W = 155, PAD_L = 40, PAD_R = 4;

function S(color, mean, sd) { return { color, mean, sd }; }

// the left wrist/finger traces coincide in rows 1-2, so the wrist is drawn under the finger
const panels = [
  { row: 0, left: 38, zero: 220, k: 34, bar: 341, series: [
    S(C_BROWN, hindHipRef, null), S(C_ORANGE, posLH_knee, posLH_knee_sd), S(C_BLUE, posLH_ankle, posLH_ankle_sd),
    S(C_GREEN, posLH_paw, posLH_paw_sd), S(C_GREY, posLH_toe, posLH_toe_sd)] },
  { row: 0, left: 295, zero: 220, k: 34, bar: 341, series: [
    S(C_BROWN, hindHipRef, null), S(C_ORANGE, posRH_knee, posRH_knee_sd), S(C_BLUE, posRH_ankle, posRH_ankle_sd),
    S(C_GREEN, posRH_paw, posRH_paw_sd), S(C_GREY, posRH_toe, posRH_toe_sd)] },
  { row: 0, left: 551, zero: 224, k: 32, bar: 343, series: [
    S(C_BROWN, posLF_shoulder, posLF_shoulder_sd), S(C_ORANGE, posLF_elbow, posLF_elbow_sd),
    S(C_BLUE, posLF_finger, posLF_finger_sd), S(C_GREEN, posLF_finger, posLF_finger_sd)] },
  { row: 0, left: 808, zero: 221.7, k: 34, bar: 341, series: [
    S(C_BROWN, posRF_shoulder, posRF_shoulder_sd), S(C_ORANGE, posRF_elbow, posRF_elbow_sd),
    S(C_BLUE, posRF_finger, posRF_finger_sd), S(C_GREEN, posRF_finger, posRF_finger_sd)] },

  { row: 1, left: 38, zero: 508.3, k: 800, bar: 608, series: [
    S(C_BROWN, hindHipRef, null), S(C_ORANGE, velLH_knee, velLH_knee_sd), S(C_BLUE, velLH_ankle, velLH_ankle_sd),
    S(C_GREEN, velLH_paw, velLH_paw_sd), S(C_GREY, velLH_toe, velLH_toe_sd)] },
  { row: 1, left: 295, zero: 508.3, k: 800, bar: 608, series: [
    S(C_BROWN, hindHipRef, null), S(C_ORANGE, velRH_knee, velRH_knee_sd), S(C_BLUE, velRH_ankle, velRH_ankle_sd),
    S(C_GREEN, velRH_paw, velRH_paw_sd), S(C_GREY, velRH_toe, velRH_toe_sd)] },
  { row: 1, left: 551, zero: 511.7, k: 800, bar: 611, series: [
    S(C_BROWN, velLF_shoulder, velLF_shoulder_sd), S(C_ORANGE, velLF_elbow, velLF_elbow_sd),
    S(C_BLUE, velLF_finger, velLF_finger_sd), S(C_GREEN, velLF_finger, velLF_finger_sd)] },
  { row: 1, left: 808, zero: 510, k: 800, bar: 608, series: [
    S(C_BROWN, velRF_shoulder, velRF_shoulder_sd), S(C_ORANGE, velRF_elbow, velRF_elbow_sd),
    S(C_BLUE, velRF_finger, velRF_finger_sd), S(C_GREEN, velRF_finger, velRF_finger_sd)] },

  { row: 2, left: 38, zero: 770, k: 2.45, bar: 902, series: [
    S(C_BROWN, angLH_hip, angLH_hip_sd), S(C_ORANGE, angLH_knee, angLH_knee_sd),
    S(C_BLUE, angLH_ankle, angLH_ankle_sd), S(C_GREEN, angLH_paw, angLH_paw_sd)] },
  { row: 2, left: 295, zero: 770, k: 2.45, bar: 902, series: [
    S(C_BROWN, angRH_hip, angRH_hip_sd), S(C_ORANGE, angRH_knee, angRH_knee_sd),
    S(C_BLUE, angRH_ankle, angRH_ankle_sd), S(C_GREEN, angRH_paw, angRH_paw_sd)] },
  { row: 2, left: 551, zero: 774, k: 2.5, bar: 905, series: [
    S(C_BROWN, angLF_shoulder, angLF_shoulder_sd), S(C_ORANGE, angLF_elbow, angLF_elbow_sd),
    S(C_BLUE, angLF_wrist, angLF_wrist_sd)] },
  { row: 2, left: 808, zero: 769.3, k: 2.45, bar: 902, series: [
    S(C_BROWN, angRF_shoulder, angRF_shoulder_sd), S(C_ORANGE, angRF_elbow, angRF_elbow_sd),
    S(C_BLUE, angRF_wrist, angRF_wrist_sd)] },

  { row: 3, left: 38, zero: 1016, k: 49, bar: 1122, series: [
    S(C_BROWN, avLH_hip, avLH_hip_sd), S(C_ORANGE, avLH_knee, avLH_knee_sd),
    S(C_BLUE, avLH_ankle, avLH_ankle_sd), S(C_GREEN, avLH_paw, avLH_paw_sd)] },
  { row: 3, left: 295, zero: 1015, k: 49, bar: 1122, series: [
    S(C_BROWN, avRH_hip, avRH_hip_sd), S(C_ORANGE, avRH_knee, avRH_knee_sd),
    S(C_BLUE, avRH_ankle, avRH_ankle_sd), S(C_GREEN, avRH_paw, avRH_paw_sd)] },
  { row: 3, left: 560, zero: 1015, k: 49, bar: 1122, series: [
    S(C_BROWN, avLF_shoulder, avLF_shoulder_sd), S(C_ORANGE, avLF_elbow, avLF_elbow_sd),
    S(C_BLUE, avLF_wrist, avLF_wrist_sd)] },
  { row: 3, left: 808, zero: 1015, k: 49, bar: 1122, series: [
    S(C_BROWN, avRF_shoulder, avRF_shoulder_sd), S(C_ORANGE, avRF_elbow, avRF_elbow_sd),
    S(C_BLUE, avRF_wrist, avRF_wrist_sd)] }
];

function rgba(hex, a) {
  const n = parseInt(hex.slice(1), 16);
  return `rgba(${(n >> 16) & 255},${(n >> 8) & 255},${n & 255},${a})`;
}
function pts(arr) { return timeMs.map((t, i) => ({ x: t, y: arr[i] })); }

// L-shaped scale bar with its two labels, sized through the chart's own scales
const scaleBarPlugin = {
  id: 'scaleBar',
  afterDraw(chart, args, opts) {
    const { ctx, chartArea, scales: { x, y } } = chart;
    const x0 = chartArea.left - 8;
    const yb = opts.bottom;
    const h = y.getPixelForValue(0) - y.getPixelForValue(opts.value);
    const w = x.getPixelForValue(-100) - x.getPixelForValue(-200);
    ctx.save();
    ctx.strokeStyle = '#000';
    ctx.lineWidth = 2.6;
    ctx.lineJoin = 'miter';
    ctx.beginPath();
    ctx.moveTo(x0, yb - h);
    ctx.lineTo(x0, yb);
    ctx.lineTo(x0 + w, yb);
    ctx.stroke();
    ctx.fillStyle = '#222';
    ctx.font = '13.5px "Liberation Sans", Arial, sans-serif';
    ctx.textAlign = 'center';
    ctx.textBaseline = 'middle';
    ctx.fillText('100 ms', x0 + w / 2, yb + 18);
    ctx.translate(x0 - 15.5, yb - h / 2);
    ctx.rotate(-Math.PI / 2);
    ctx.fillText(opts.label, 0, 0);
    ctx.restore();
  }
};

panels.forEach(p => {
  const R = rows[p.row];
  const cv = document.createElement('canvas');
  cv.className = 'panel';
  cv.width = PAD_L + PLOT_W + PAD_R;
  cv.height = R.height;
  cv.style.left = (p.left - PAD_L) + 'px';
  cv.style.top = R.top + 'px';
  document.body.appendChild(cv);

  const yMax = (p.zero - R.top) / p.k;
  const yMin = -(R.top + R.height - p.zero) / p.k;
  const n = p.series.length;
  const datasets = [];

  // shaded mean +/- sd bands
  p.series.forEach((s, j) => {
    if (!s.sd) return;
    datasets.push({
      data: pts(s.mean.map((m, i) => m + s.sd[i])), fill: '+1',
      backgroundColor: rgba(s.color, 0.2), borderColor: rgba(s.color, 0.28), borderWidth: 0.8, order: 30 - j
    });
    datasets.push({
      data: pts(s.mean.map((m, i) => m - s.sd[i])), fill: false,
      borderColor: rgba(s.color, 0.28), borderWidth: 0.8, order: 30 - j
    });
  });
  // mean traces on top, later joints above earlier ones
  p.series.forEach((s, j) => {
    datasets.push({ data: pts(s.mean), fill: false, borderColor: s.color, borderWidth: 1.3, order: n - j });
  });

  new Chart(cv, {
    type: 'line',
    data: { datasets },
    options: {
      responsive: false,
      animation: false,
      events: [],
      layout: { padding: { left: PAD_L, right: PAD_R, top: 0, bottom: 0 } },
      elements: { point: { radius: 0 }, line: { tension: 0 } },
      plugins: {
        legend: { display: false },
        tooltip: { enabled: false },
        scaleBar: { bottom: p.bar - R.top, value: R.barValue, label: R.barLabel }
      },
      scales: {
        x: { type: 'linear', min: -200, max: 200, display: false },
        y: { type: 'linear', min: yMin, max: yMax, display: false }
      }
    },
    plugins: [scaleBarPlugin]
  });
});

// ---------- legends ----------
const legends = [
  { names: hindLeftNames, colors: hindColors, x: 45, ys: [14, 33, 53, 73, 92] },
  { names: hindRightNames, colors: hindColors, x: 297, ys: [14, 33, 53, 73, 92] },
  { names: foreLeftNames, colors: foreColors, x: 548, ys: [36, 56, 75, 95] },
  { names: foreRightNames, colors: foreColors, x: 801, ys: [34, 53, 72, 92] }
];
legends.forEach(L => {
  const box = document.createElement('div');
  box.className = 'legend';
  box.style.left = L.x + 'px';
  box.style.top = '0px';
  L.names.forEach((name, i) => {
    const item = document.createElement('div');
    item.className = 'item';
    item.style.top = Math.round(L.ys[i] - 10) + 'px';
    const sw = document.createElement('span');
    sw.className = 'swatch';
    sw.style.borderTopColor = L.colors[i];
    item.appendChild(sw);
    item.appendChild(document.createTextNode(name));
    box.appendChild(item);
  });
  document.body.appendChild(box);
});
</script>
</body>
</html>
